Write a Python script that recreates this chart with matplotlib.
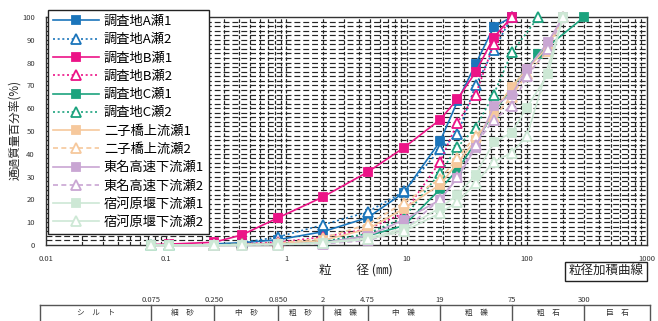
import numpy as np
import matplotlib
matplotlib.use("Agg")
import matplotlib.pyplot as plt
from matplotlib.ticker import FixedLocator, NullLocator

plt.rcParams['font.family'] = ['Noto Sans CJK JP', 'DejaVu Sans']

# ---------------- data ----------------
SIZES_A = [0.25, 0.425, 0.85, 2, 4.75, 9.5, 19, 26.5, 37.5, 53, 75]
A1 = [0.5, 1.0, 2.3, 5.8, 12.0, 23.0, 45.5, 63.0, 79.3, 95.6, 100]
SIZES_A2 = [0.425, 0.85, 2, 4.75, 9.5, 19, 26.5, 37.5, 53, 75]
A2 = [1.0, 3.5, 8.8, 14.5, 23.5, 42.0, 48.5, 70.0, 85.5, 100]

SIZES_B = [0.075, 0.106, 0.25, 0.425, 0.85, 2, 4.75, 9.5, 19, 26.5, 37.5, 53, 75]
B1 = [0.2, 0.4, 1.2, 4.4, 11.9, 21.0, 32.0, 42.7, 55.0, 64.0, 75.8, 91.0, 100]
SIZES_B2 = [0.425, 0.85, 2, 4.75, 9.5, 19, 26.5, 37.5, 53, 75]
B2 = [0.5, 1.2, 3.5, 7.0, 14.0, 36.5, 53.7, 66.0, 88.0, 100]

SIZES_C1 = [0.075, 0.106, 0.25, 0.425, 0.85, 2, 4.75, 9.5, 19, 26.5, 37.5, 53, 75, 125, 300]
C1 = [0, 0, 0, 0.2, 0.5, 1.0, 4.0, 8.5, 24.5, 33.0, 45.0, 58.0, 69.0, 83.7, 100]
SIZES_C2 = [0.075, 0.106, 0.25, 0.425, 0.85, 2, 4.75, 9.5, 19, 26.5, 37.5, 53, 75, 125]
C2 = [0, 0, 0, 0.3, 0.8, 1.5, 5.0, 12.0, 31.7, 43.0, 51.5, 66.0, 84.5, 100]

SIZES_F = [0.25, 0.425, 0.85, 2, 4.75, 9.5, 19, 26.5, 37.5, 53, 75, 100, 150, 200]
F1 = [0, 0.2, 0.5, 2.0, 7.0, 16.0, 26.5, 36.0, 46.0, 58.5, 69.5, 77.0, 87.0, 100]
F2 = [0, 0.3, 0.8, 3.0, 9.0, 18.5, 29.0, 38.0, 48.0, 56.0, 65.0, 75.0, 85.0, 100]

SIZES_T = [0.25, 0.425, 0.85, 2, 4.75, 9.5, 19, 26.5, 37.5, 53, 75, 100, 150, 200]
T1 = [0, 0.1, 0.3, 1.0, 4.0, 11.0, 19.8, 29.5, 42.7, 60.8, 66.0, 77.0, 89.0, 100]
T2 = [0, 0, 0.2, 0.5, 2.0, 6.5, 20.0, 30.0, 44.0, 55.0, 61.0, 74.0, 86.0, 100]

SIZES_S = [0.075, 0.106, 0.25, 0.425, 0.85, 2, 4.75, 9.5, 19, 26.5, 37.5, 53, 75, 100, 150, 200]
S1 = [0, 0, 0, 0.1, 0.3, 1.0, 3.0, 7.0, 16.3, 22.0, 30.8, 45.0, 49.3, 60.3, 74.9, 100]
SIZES_S2 = [0.075, 0.106, 0.25, 0.425, 0.85, 2, 4.75, 9.5, 19, 26.5, 37.5, 53, 75, 100, 200]
S2 = [0, 0, 0, 0.1, 0.2, 0.8, 2.5, 6.0, 14.0, 19.0, 27.0, 36.5, 40.5, 47.7, 100]

LABELS = ['調査地A瀬1', '調査地A瀬2', '調査地B瀬1', '調査地B瀬2', '調査地C瀬1', '調査地C瀬2',
          '二子橋上流瀬1', '二子橋上流瀬2', '東名高速下流瀬1', '東名高速下流瀬2',
          '宿河原堰下流瀬1', '宿河原堰下流瀬2']

X_TICKS = [0.01, 0.1, 1, 10, 100, 1000]
X_TICK_LABELS = ['0.01', '0.1', '1', '10', '100', '1000']
Y_TICKS = [0, 10, 20, 30, 40, 50, 60, 70, 80, 90, 100]

BOUNDS = [0.075, 0.25, 0.85, 2, 4.75, 19, 75, 300]
BOUND_LABELS = ['0.075', '0.250', '0.850', '2', '4.75', '19', '75', '300']
CLASSES = ['シ　ル　ト', '細　砂', '中　砂', '粗　砂', '細　礫', '中　礫', '粗　礫', '粗　石', '巨　石']

# ---------------- figure ----------------
W, H = 658, 321
fig = plt.figure(figsize=(W / 100, H / 100), dpi=100)

def fx(px):
    return px / W

def fy(py):
    return 1 - py / H

ax = fig.add_axes([fx(46), fy(245), fx(647) - fx(46), fy(17) - fy(245)])
ax.set_xscale('log')
ax.set_xlim(0.01, 1000)
ax.set_ylim(0, 100)

# dense dashed mesh grid
for yv in np.arange(2, 100, 2):
    ax.axhline(yv, color='#262626', lw=0.85, ls=(0, (5, 2.5)), zorder=0.5)
minor = []
for d in [0.01, 0.1, 1, 10, 100]:
    for m in range(1, 10):
        minor.append(d * m)
for xv in minor[1:]:
    ax.axvline(xv, color='#262626', lw=0.85, ls=(0, (3, 1.6)), zorder=0.5)

BLUE = '#1b75bb'
PINK = '#ec1387'
TEAL = '#1ca37e'
PEACH = '#f6c89c'
LAV = '#c9a6d3'
LGRN = '#cde8d5'

series = [
    (SIZES_A, A1, BLUE, '-', 's', True),
    (SIZES_A2, A2, BLUE, ':', '^', False),
    (SIZES_B, B1, PINK, '-', 's', True),
    (SIZES_B2, B2, PINK, ':', '^', False),
    (SIZES_C1, C1, TEAL, '-', 's', True),
    (SIZES_C2, C2, TEAL, ':', '^', False),
    (SIZES_F, F1, PEACH, '-', 's', True),
    (SIZES_F, F2, PEACH, '--', '^', False),
    (SIZES_T, T1, LAV, '-', 's', True),
    (SIZES_T, T2, LAV, '--', '^', False),
    (SIZES_S, S1, LGRN, '-', 's', True),
    (SIZES_S2, S2, LGRN, '-', '^', False),
]

handles = []
for i, (xs, ys, col, ls, mk, filled) in enumerate(series):
    if ls == ':':
        lsd = (0, (1.2, 1.6))
    elif ls == '--':
        lsd = (0, (3, 2))
    else:
        lsd = '-'
    h, = ax.plot(xs, ys, color=col, ls=lsd, lw=1.2, marker=mk,
                 ms=6.2 if mk == 's' else 6.8,
                 mfc=col if filled else 'white', mec=col, mew=1.3,
                 label=LABELS[i], zorder=3 + i * 0.1, clip_on=False)
    handles.append(h)

for s in ax.spines.values():
    s.set_color('#333333')
    s.set_linewidth(1.0)

ax.xaxis.set_major_locator(FixedLocator(X_TICKS))
ax.set_xticklabels(X_TICK_LABELS)
ax.xaxis.set_minor_locator(NullLocator())
ax.set_yticks(Y_TICKS)
ax.tick_params(axis='both', length=0, labelsize=5.5, colors='#333333')
ax.tick_params(axis='x', pad=7)
ax.tick_params(axis='y', pad=8)

leg = fig.legend(handles=handles, loc='upper left', bbox_to_anchor=(fx(48), fy(10)),
                 borderaxespad=0, fontsize=9.5, handlelength=3.5, handletextpad=0.35,
                 labelspacing=0.4, borderpad=0.38, fancybox=False, framealpha=1,
                 edgecolor='#222222', facecolor='white')
leg.get_frame().set_linewidth(1.0)
leg.set_zorder(20)

fig.text(fx(15), fy(130), '通過質量百分率(%)', rotation=90, ha='center', va='center',
         fontsize=8.4, color='#222222')
fig.text(fx(356), fy(271), '粒　　径 (㎜)', ha='center', va='center', fontsize=9,
         color='#222222')
fig.text(fx(606), fy(271.5), '粒径加積曲線', ha='center', va='center', fontsize=9,
         color='#222222',
         bbox=dict(boxstyle='square,pad=0.25', fc='white', ec='#222222', lw=1.0))

# ---------------- classification table ----------------
lo = 10 ** (-2 - 6 / 120.2)
hi = 10 ** (3 + 3 / 120.2)
tax = fig.add_axes([fx(40), 0, fx(650) - fx(40), fy(292)])
tax.set_xscale('log')
tax.set_xlim(lo, hi)
tax.set_ylim(0, 1)
tax.axis('off')
yline = (321 - 305) / 29
tax.plot([lo, hi], [yline, yline], color='#555555', lw=1.0, clip_on=False)
for b in [lo] + BOUNDS + [hi]:
    tax.plot([b, b], [0, yline], color='#555555', lw=1.0, clip_on=False)
for b, lab in zip(BOUNDS, BOUND_LABELS):
    tax.text(b, (321 - 300) / 29, lab, ha='center', va='center', fontsize=5.5,
             color='#333333')
edges = [lo] + BOUNDS + [hi]
for k, lab in enumerate(CLASSES):
    xc = np.sqrt(edges[k] * edges[k + 1])
    tax.text(xc, (321 - 313) / 29, lab, ha='center', va='center', fontsize=5.5,
             color='#333333')

fig.savefig('out.png', dpi=100)
